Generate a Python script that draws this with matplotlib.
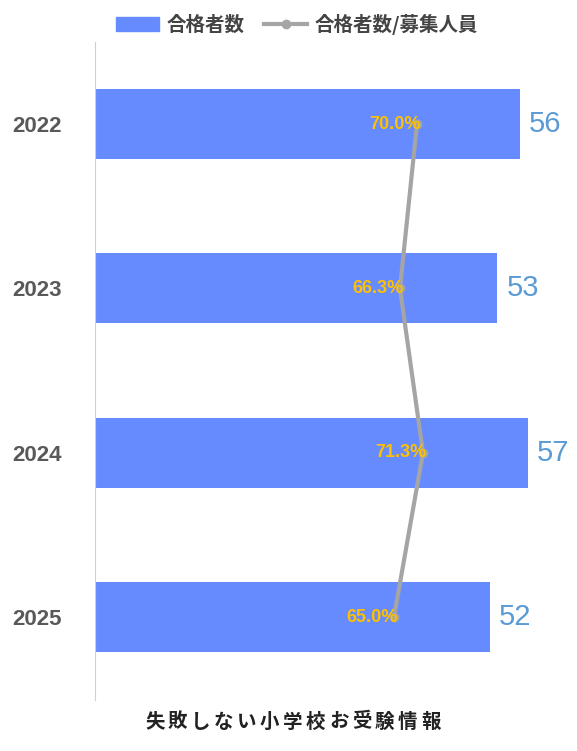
import matplotlib
matplotlib.use("Agg")
import matplotlib.pyplot as plt
from matplotlib.lines import Line2D
from matplotlib.patches import Patch

plt.rcParams['font.family'] = ['Liberation Sans', 'Noto Sans CJK JP', 'DejaVu Sans']

years = ["2022", "2023", "2024", "2025"]
passers = [56, 53, 57, 52]
ratio = [70.0, 66.3, 71.3, 65.0]

W, H = 577, 751
fig = plt.figure(figsize=(W/100, H/100), dpi=100)
x0, x1 = 95, 575
y0, y1 = 700, 42
ax = fig.add_axes([x0/W, 1-y0/H, (x1-x0)/W, (y0-y1)/H])
ypos = list(range(len(years)))
ax.barh(ypos, passers, height=0.426, color="#658BFF")
ax.set_xlim(0, (x1-x0)/7.59)
ax.set_ylim(3.505, -0.499)
ax.set_yticks(ypos)
ax.set_yticklabels(years, fontsize=16, fontweight="bold", color="#595959")
ax.tick_params(axis="y", length=0, pad=24)
ax.set_xticks([])
for s in ["top", "right", "bottom"]:
    ax.spines[s].set_visible(False)
ax.spines["left"].set_color("#D0D0D0")
for y, v in zip(ypos, passers):
    ax.text(v + 1.2, y, str(v), va="center", ha="left", fontsize=21, color="#5B9BD5")

ax2 = ax.twiny()
ax2.set_xlim(0, (x1-x0)/4.6)
ax2.plot(ratio, ypos, color="#A5A5A5", lw=3, marker="o", ms=6)
ax2.set_xticks([])
for s in ax2.spines.values():
    s.set_visible(False)
for y, r in zip(ypos, ratio):
    ax2.text(r + 0.8, y, f"{r:.1f}%", va="center", ha="right", fontsize=13,
             fontweight="bold", color="#FFC000")

handles = [Patch(color="#658BFF"),
           Line2D([0], [0], color="#A5A5A5", lw=3, marker="o", ms=6)]
fig.legend(handles, ["合格者数", "合格者数/募集人員"], loc="center", bbox_to_anchor=(0.515, 1-24/H),
           ncol=2, frameon=False, handlelength=2.2, columnspacing=1.0, handletextpad=0.4,
           prop={"weight": "bold", "size": 14, "family": ["Noto Sans CJK JP"]}, labelcolor="#444444")
footer = "失敗しない小学校お受験情報"
for i, ch in enumerate(footer):
    fig.text((145 + 23*i)/W, 1-722/H, ch, fontsize=14, fontweight="bold",
             va="center", ha="left", color="#222222", family=["Noto Sans CJK JP"])
fig.savefig("out.png", dpi=100, facecolor="white")
